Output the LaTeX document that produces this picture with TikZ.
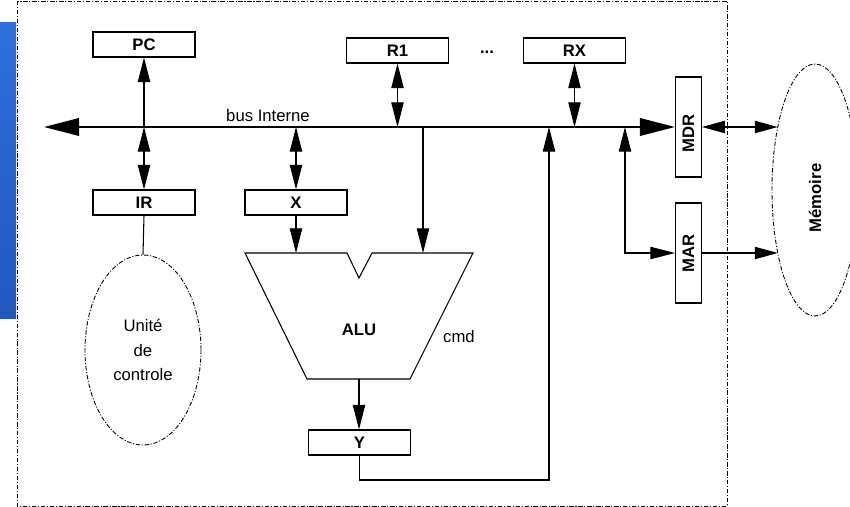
\documentclass[tikz,border=0pt]{standalone}
\usepackage{fontspec}
\setmainfont{Liberation Sans}
\usetikzlibrary{arrows.meta,shapes.geometric,calc}
\definecolor{slideblue}{HTML}{2E70DA}
\definecolor{slidedark}{HTML}{2058BE}

\begin{document}
\begin{tikzpicture}[
  x=0.02cm, y=-0.02cm,
  font=\fontsize{9.5}{14}\selectfont, >={Triangle[length=14pt,width=7pt]},
  reg/.style={draw, line width=0.6pt, minimum width=2.04cm, minimum height=0.5cm, inner sep=0pt, font=\fontsize{9.5}{14}\selectfont\bfseries},
  vreg/.style={draw, line width=0.6pt, minimum width=0.52cm, minimum height=2cm, inner sep=0pt},
  vlbl/.style={rotate=90, inner sep=0pt, font=\fontsize{9.5}{14}\selectfont\bfseries},
  lbl/.style={inner sep=0pt, font=\fontsize{9.5}{14}\selectfont},
  wire/.style={line width=0.6pt},
  bus/.style={line width=1.1pt, {Triangle[length=20pt,width=10pt]}-{Triangle[length=20pt,width=10pt]}},
  dashdot/.style={line width=0.5pt, dash pattern=on 2.5pt off 1pt on 0.6pt off 1pt},
]
\useasboundingbox (0,0) rectangle (850,507);
% slide background and processor frame
\shade[top color=slideblue, bottom color=slidedark] (0,22) rectangle (16,318);
\draw[dashdot] (17,1) rectangle (727,506);

% registers
\node[reg] (pc) at (144,44.5) {PC};
\node[reg] (r1) at (397.5,50.5) {R1};
\node[lbl] (dots) at (487,52) {\textbf{...}};
\node[reg] (rx) at (574.5,50.5) {RX};
\node[reg] (ir) at (144,202.5) {IR};
\node[reg] (xr) at (296,202.5) {X};
\node[reg] (yr) at (359.5,442.5) {Y};
\node[vreg] (mdr) at (688.5,127) {};
\node[vlbl] (mdrlbl) at (688.5,133) {MDR};
\node[vreg] (mar) at (688.5,253) {};
\node[vlbl] (marlbl) at (mar) {MAR};

% control unit and memory
\node[ellipse, draw, dashdot, minimum width=2.32cm, minimum height=3.8cm, inner sep=0pt, align=center] (cu) at (143,350) {Unité\\de\\controle};
\node[ellipse, draw, dashdot, minimum width=1.72cm, minimum height=5.04cm, inner sep=0pt] (mem) at (815,190) {};
\node[vlbl] (memlbl) at (815,198) {Mémoire};

% ALU
\coordinate (aluTL) at (245,253);
\coordinate (aluTR) at (473,253);
\coordinate (aluBR) at (410,379);
\coordinate (aluBL) at (307,379);
\coordinate (aluout) at (359,379);
\draw[wire] (aluTL) -- (347,253) -- (359,278) -- (372,253) -- (aluTR) -- (aluBR) -- (aluBL) -- cycle;
\node[lbl, font=\fontsize{9.5}{14}\selectfont\bfseries] (alu) at (359,330) {ALU};
\node[lbl] (cmd) at (459,337) {cmd};

% internal bus
\coordinate (busL) at (44,127);
\draw[bus] (busL) -- (mdr.west);
\node[lbl] (buslbl) at (268,116) {bus Interne};

% bus connections
\draw[wire,->] (pc |- busL) -- (pc.south);
\draw[wire,<->] (r1.south) -- (r1 |- busL);
\draw[wire,<->] (rx.south) -- (rx |- busL);
\draw[wire,<->] (ir |- busL) -- (ir.north);
\draw[wire,<->] (xr |- busL) -- (xr.north);
\draw[wire] (ir.south) -- (cu.north);
\draw[wire,->] (xr.south) -- (xr.south |- aluTL);
\coordinate (alub) at (423,253);
\draw[wire,->] (alub |- busL) -- (alub);
\draw[wire,->] (aluout) -- (aluout |- yr.north);
\coordinate (ret) at (549,480);
\draw[wire,->] (yr.south) |- (ret) -- (ret |- busL);
\coordinate (mfeed) at (625,127);
\draw[wire,<->] (mfeed) |- (mar.west);

% memory side
\draw[wire,<->, >={Triangle[length=13pt,width=7pt]}] (mdr.east) -- (mdr.east -| mem.120);
\draw[wire,->, >={Triangle[length=13pt,width=7pt]}] (mar.east) -- (mar.east -| mem.240);
\end{tikzpicture}
\end{document}
